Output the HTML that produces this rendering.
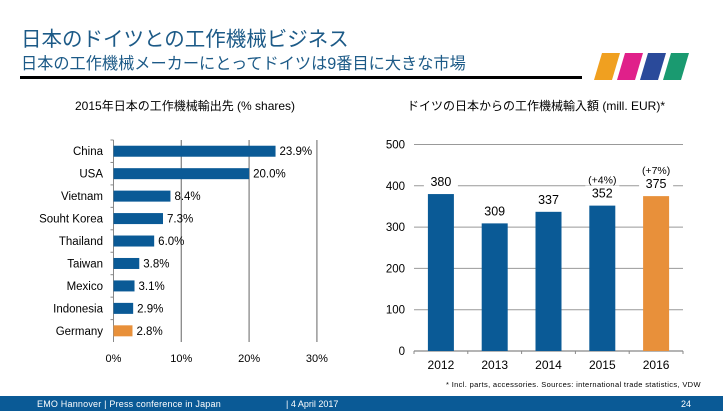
<!DOCTYPE html>
<html><head><meta charset="utf-8"><style>
body{margin:0;width:723px;height:411px;background:#fff;position:relative;overflow:hidden;font-family:"Liberation Sans","Noto Sans CJK JP",sans-serif}
.t{position:absolute;white-space:nowrap}
svg{position:absolute;left:0;top:0}
</style></head><body>
<div class="t" style="left:21px;top:22px;font-size:20.5px;color:#1c5a87">日本のドイツとの工作機械ビジネス</div>
<div class="t" style="left:21px;top:50px;font-size:16.2px;color:#1c5a87">日本の工作機械メーカーにとってドイツは9番目に大きな市場</div>
<div style="position:absolute;left:20px;top:76px;width:562px;height:3px;background:#000"></div>
<svg width="723" height="411" style="pointer-events:none">
<polygon points="594,80 602,53 620,53 612,80" fill="#f0a020"/>
<polygon points="617,80 625,53 643,53 635,80" fill="#e0208a"/>
<polygon points="640,80 648,53 666,53 658,80" fill="#2a4a9a"/>
<polygon points="663,80 671,53 689,53 681,80" fill="#1a9a70"/>
</svg>
<div class="t" style="left:75px;top:97px;font-size:12px;color:#000">2015年日本の工作機械輸出先 (% shares)</div>
<div class="t" style="left:407px;top:97px;font-size:12px;color:#000">ドイツの日本からの工作機械輸入額 (mill. EUR)*</div>
<svg id="left" width="723" height="411"></svg>
<svg id="right" width="723" height="411"></svg>
<div class="t" style="left:446px;top:380px;font-size:7.5px;letter-spacing:0.35px;color:#000">* Incl. parts, accessories. Sources: international trade statistics, VDW</div>
<div style="position:absolute;left:0;top:396px;width:723px;height:15px;background:#0a5a96"></div>
<div class="t" style="left:37px;top:399px;font-size:9px;letter-spacing:0.2px;color:#fff">EMO Hannover | Press conference in Japan</div>
<div class="t" style="left:286px;top:399px;font-size:9px;color:#fff">| 4 April 2017</div>
<div class="t" style="left:681px;top:399px;font-size:9px;color:#fff">24</div>
<script>
const countries=["China","USA","Vietnam","Souht Korea","Thailand","Taiwan","Mexico","Indonesia","Germany"];
const shares=[23.9,20.0,8.4,7.3,6.0,3.8,3.1,2.9,2.8];
const shareLabels=["23.9%","20.0%","8.4%","7.3%","6.0%","3.8%","3.1%","2.9%","2.8%"];
const xTicks=[0,10,20,30];
const years=["2012","2013","2014","2015","2016"];
const imports=[380,309,337,352,375];
const growth=["","","","(+4%)","(+7%)"];
const yTicks=[0,100,200,300,400,500];
const NS="http://www.w3.org/2000/svg";
function mk(p,t,a,txt){const e=document.createElementNS(NS,t);for(const k in a)e.setAttribute(k,a[k]);if(txt!==undefined)e.textContent=txt;p.appendChild(e);return e;}
// left chart
const L=document.getElementById('left');
const x0=113.5,pxPer=6.78,top0=140,band=22.45;
const sx=v=>x0+v*pxPer;
xTicks.forEach(v=>{
 if(v>0){const g=mk(L,'line',{x1:sx(v),x2:sx(v),y1:top0,y2:top0+band*9,stroke:'#888','stroke-width':1.3});
 }
 const t=mk(L,'text',{x:sx(v),y:362,'font-size':11,'text-anchor':'middle'},v+'%');
 
});
mk(L,'line',{x1:x0,x2:x0,y1:top0,y2:top0+band*9,stroke:'#888','stroke-width':1});
countries.forEach((c,i)=>{
 const cy=top0+band*(i+0.5);
 const b=mk(L,'rect',{x:x0,y:cy-5.5,width:shares[i]*pxPer,height:11,fill:c==="Germany"?'#e8903a':'#0a5a96'});
 
 const l=mk(L,'text',{x:103,y:cy+4,'font-size':11.5,'text-anchor':'end'},c);
 
 const v=mk(L,'text',{x:sx(shares[i])+4,y:cy+4,'font-size':11.5},shareLabels[i]);
 
 mk(L,'line',{x1:x0-3,x2:x0,y1:top0+band*i,y2:top0+band*i,stroke:'#888'});
});
// right chart
const R=document.getElementById('right');
const gx0=414,gx1=683,y0=351,per=0.413;
const sy=v=>y0-v*per;const step=(gx1-gx0)/years.length;
yTicks.forEach(v=>{
 if(v>0){const g=mk(R,'line',{x1:gx0,x2:gx1,y1:sy(v),y2:sy(v),stroke:'#999','stroke-width':1});
 }
 const t=mk(R,'text',{x:405,y:sy(v)+4,'font-size':11.5,'text-anchor':'end'},v);
 
});
mk(R,'line',{x1:gx0,x2:gx1,y1:y0,y2:y0,stroke:'#888','stroke-width':1.3});
years.forEach((yr,i)=>{
 const cx=gx0+step*(i+0.5);
 mk(R,'line',{x1:gx0+step*i,x2:gx0+step*i,y1:y0,y2:y0+3,stroke:'#888'});
 const b=mk(R,'rect',{x:cx-13,y:sy(imports[i]),width:26,height:imports[i]*per,fill:i===4?'#e8903a':'#0a5a96'});
 
 mk(R,'rect',{x:cx-17,y:sy(imports[i])-20,width:34,height:14,fill:'#fff'});
 const v=mk(R,'text',{x:cx,y:sy(imports[i])-8,'font-size':12.5,'text-anchor':'middle'},imports[i]);
 
 if(growth[i]){const g=mk(R,'text',{x:cx,y:sy(imports[i])-22,'font-size':10.5,'text-anchor':'middle'},growth[i]);
 }
 const t=mk(R,'text',{x:cx,y:369,'font-size':12,'text-anchor':'middle'},yr);
 
});
mk(R,'line',{x1:gx1,x2:gx1,y1:y0,y2:y0+3,stroke:'#888'});
</script>
</body></html>
